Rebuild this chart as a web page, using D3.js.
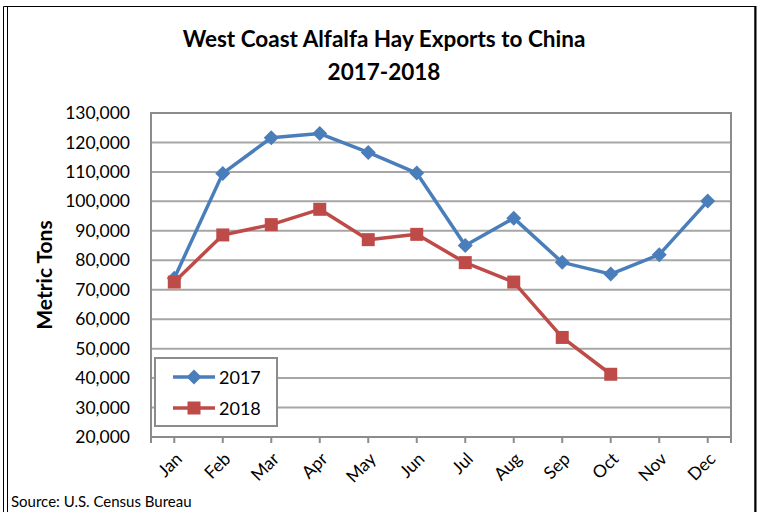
<!DOCTYPE html>
<html>
<head>
<meta charset="utf-8">
<script src="https://cdn.jsdelivr.net/npm/d3@7"></script>
<style>
  body { margin: 0; background: #fff; }
  svg { display: block; }
  text { font-family: Lato, "Open Sans", sans-serif; fill: #000; }
</style>
</head>
<body>
<div id="chart-area"></div>
<script>
var months = ['Jan', 'Feb', 'Mar', 'Apr', 'May', 'Jun', 'Jul', 'Aug', 'Sep', 'Oct', 'Nov', 'Dec'];
var exports2017 = [73900, 109500, 121600, 123000, 116600, 109600, 85000, 94300, 79300, 75300, 81900, 100100];
var exports2018 = [72600, 88600, 92100, 97300, 87000, 88800, 79200, 72600, 53800, 41300];
var yTicks = [20000, 30000, 40000, 50000, 60000, 70000, 80000, 90000, 100000, 110000, 120000, 130000];
var seriesNames = ['2017', '2018'];

var W = 763, H = 512;
var margin = { left: 151, right: 32, top: 113, bottom: 75 };
var width = W - margin.left - margin.right;
var height = H - margin.top - margin.bottom;

var blue = '#4a7ebb', red = '#be4b48', grid = '#8c8c8c';

// excel style markers
var diamondPath = 'M0,-7.5L7.5,0L0,7.5L-7.5,0Z';
var squarePath = 'M-6.5,-6.5H6.5V6.5H-6.5Z';

var svg = d3.select('#chart-area')
    .append('svg')
    .attr('width', W)
    .attr('height', H);

// outer frame (cut off at the bottom)
svg.append('path')
    .attr('d', 'M3.5,512 V6.5 H755 V512')
    .attr('fill', 'none')
    .attr('stroke', '#000')
    .attr('stroke-width', 1);
svg.append('line')
    .attr('x1', 7.5).attr('x2', 7.5).attr('y1', 6.5).attr('y2', 512)
    .attr('stroke', '#000');
svg.append('line')
    .attr('x1', 755.5).attr('x2', 755.5).attr('y1', 6).attr('y2', 512)
    .attr('stroke', '#000').attr('stroke-width', 2);

svg.append('text')
    .attr('x', 384).attr('y', 47)
    .attr('text-anchor', 'middle')
    .attr('font-size', '22.5px')
    .attr('font-weight', 'bold')
    .text('West Coast Alfalfa Hay Exports to China');
svg.append('text')
    .attr('x', 384).attr('y', 80)
    .attr('text-anchor', 'middle')
    .attr('font-size', '22.5px')
    .attr('font-weight', 'bold')
    .text('2017-2018');

var g = svg.append('g')
    .attr('transform', 'translate(' + margin.left + ',' + margin.top + ')');

var x = d3.scalePoint()
    .domain(months)
    .range([0, width])
    .padding(0.48);

var y = d3.scaleLinear()
    .domain([20000, 130000])
    .range([height, 0]);

// gridlines
g.selectAll('.grid')
    .data(yTicks)
    .enter().append('line')
    .attr('class', 'grid')
    .attr('x1', 0).attr('x2', width)
    .attr('y1', d => y(d)).attr('y2', d => y(d))
    .attr('stroke', '#a6a6a6')
    .attr('stroke-width', 2);

g.append('rect')
    .attr('width', width).attr('height', height)
    .attr('fill', 'none')
    .attr('stroke', grid)
    .attr('stroke-width', 2);

// y axis labels
var yAxisCall = d3.axisLeft(y)
    .tickValues(yTicks)
    .tickSize(0)
    .tickPadding(21)
    .tickFormat(d3.format(','));
var yAxisGroup = g.append('g').call(yAxisCall);
yAxisGroup.select('.domain').remove();
yAxisGroup.selectAll('text')
    .attr('font-family', '"Open Sans", sans-serif')
    .attr('font-size', '17.5px');

// x axis
var xAxisCall = d3.axisBottom(x).tickSize(0).tickFormat('');
var xAxisGroup = g.append('g')
    .attr('transform', 'translate(0,' + height + ')')
    .call(xAxisCall);
xAxisGroup.select('.domain').remove();

var tickPos = months.map(m => x(m)).concat([0, width]);
g.selectAll('.xtick')
    .data(tickPos)
    .enter().append('line')
    .attr('class', 'xtick')
    .attr('x1', d => d).attr('x2', d => d)
    .attr('y1', height).attr('y2', height + 6)
    .attr('stroke', grid)
    .attr('stroke-width', 2);

g.selectAll('.xlabel')
    .data(months)
    .enter().append('text')
    .attr('class', 'xlabel')
    .attr('text-anchor', 'end')
    .attr('font-family', '"Open Sans", sans-serif')
    .attr('font-size', '17.5px')
    .attr('transform', d => 'translate(' + (x(d) + 9) + ',' + (height + 23) + ') rotate(-45)')
    .text(d => d);

svg.append('text')
    .attr('transform', 'translate(52,275) rotate(-90)')
    .attr('text-anchor', 'middle')
    .attr('font-size', '21px')
    .attr('font-weight', 'bold')
    .text('Metric Tons');

svg.append('text')
    .attr('x', 11).attr('y', 507)
    .attr('font-size', '15px')
    .text('Source: U.S. Census Bureau');

var line = d3.line()
    .x((d, i) => x(months[i]))
    .y(d => y(d));

function drawSeries(values, color, shape) {
    g.append('path')
        .datum(values)
        .attr('d', line)
        .attr('fill', 'none')
        .attr('stroke', color)
        .attr('stroke-width', 3.5)
        .attr('stroke-linejoin', 'round');
    g.selectAll(null)
        .data(values)
        .enter().append('path')
        .attr('transform', (d, i) => 'translate(' + x(months[i]) + ',' + y(d) + ')')
        .attr('d', shape)
        .attr('fill', color);
}

drawSeries(exports2017, blue, diamondPath);
drawSeries(exports2018, red, squarePath);

// legend
var legend = svg.append('g');
legend.append('rect')
    .attr('x', 155).attr('y', 358)
    .attr('width', 122).attr('height', 68)
    .attr('fill', '#fff')
    .attr('stroke', grid)
    .attr('stroke-width', 2);
var legendItems = legend.selectAll('.leg')
    .data(seriesNames)
    .enter().append('g')
    .attr('transform', (d, i) => 'translate(0,' + (377 + i * 31) + ')');
legendItems.append('line')
    .attr('x1', 173).attr('x2', 215)
    .attr('stroke', (d, i) => i === 0 ? blue : red)
    .attr('stroke-width', 3.5);
legendItems.append('path')
    .attr('transform', 'translate(194,0)')
    .attr('d', (d, i) => i === 0 ? diamondPath : squarePath)
    .attr('fill', (d, i) => i === 0 ? blue : red);
legendItems.append('text')
    .attr('x', 219).attr('y', 7)
    .attr('font-family', '"Open Sans", sans-serif')
    .attr('font-size', '18px')
    .text(d => d);
</script>
</body>
</html>
